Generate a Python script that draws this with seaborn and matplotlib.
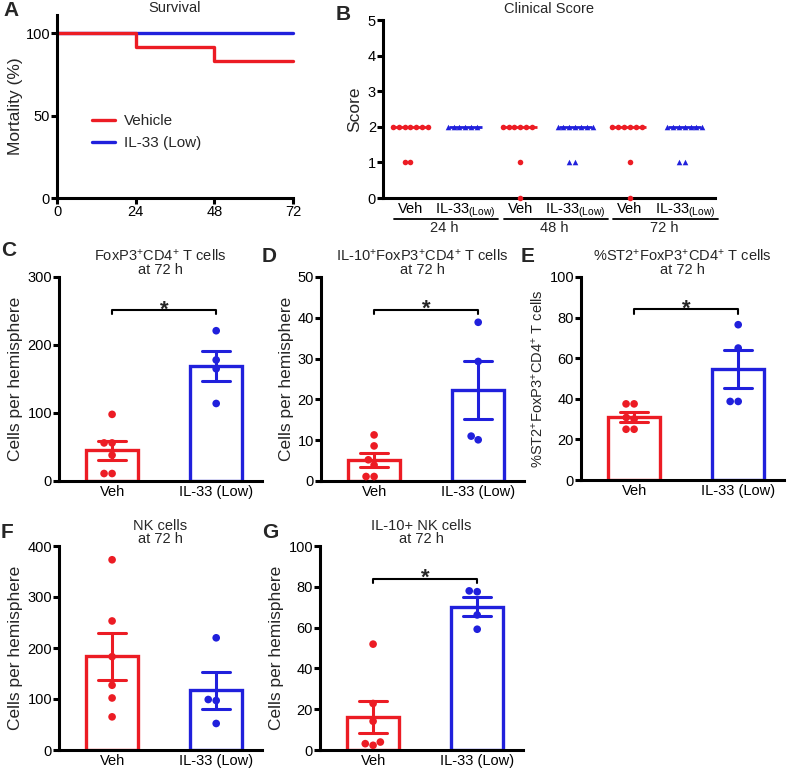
import numpy as np
import pandas as pd
import matplotlib
matplotlib.use("Agg")
import matplotlib.pyplot as plt
import matplotlib.transforms as mtransforms
import seaborn as sns

RED = "#ec1c24"
BLUE = "#2020dc"

# A: survival (%)
surv_hours = [0, 24, 48, 72]
surv_vehicle = [100, 91.7, 83.3, 83.3]
surv_il33 = [100, 100, 100, 100]

# B: clinical score
score_times = ["24 h", "48 h", "72 h"]
score_veh_24 = [2, 2, 2, 2, 2, 2, 2, 1, 1]
score_veh_48 = [2, 2, 2, 2, 2, 2, 1, 0]
score_veh_72 = [2, 2, 2, 2, 2, 2, 1, 0]
score_il33_24 = [2, 2, 2, 2, 2, 2]
score_il33_48 = [2, 2, 2, 2, 2, 2, 2, 1, 1]
score_il33_72 = [2, 2, 2, 2, 2, 2, 2, 1, 1]

# C-G: cells at 72 h
groups = ["Veh", "IL-33 (Low)"]
treg_veh = [98, 56, 56, 38, 11, 11]
treg_il33 = [221, 178, 165, 114]
il10_treg_veh = [11.3, 8.6, 5.2, 3.9, 1.1, 1.1]
il10_treg_il33 = [38.9, 29.3, 11.0, 10.1]
st2_treg_veh = [37.5, 37.5, 30.8, 30.0, 25.0, 25.0]
st2_treg_il33 = [76.5, 65.0, 38.7, 38.7]
nk_veh = [373, 253, 183, 127, 102, 65]
nk_il33 = [220, 99, 97, 52]
il10_nk_veh = [51.9, 22.8, 14.1, 3.9, 3.1, 2.3]
il10_nk_il33 = [78.0, 77.6, 66.2, 59.2]

sns.set_style("ticks")
plt.rcParams["font.family"] = ["Liberation Sans", "DejaVu Sans"]
plt.rcParams["mathtext.fontset"] = "custom"
plt.rcParams["mathtext.rm"] = "Liberation Sans"
plt.rcParams["mathtext.default"] = "regular"
FS = 10.5
plt.rcParams["font.size"] = FS
YLAB_FS = 12.5  # rotated labels run longer in the source

W, H = 793, 769
fig = plt.figure(figsize=(W / 100, H / 100), dpi=100)


def px_axes(l, t, r, b):
    return fig.add_axes([l / W, 1 - b / H, (r - l) / W, (b - t) / H])


def style_axes(ax):
    sns.despine(ax=ax)
    for s in ["left", "bottom"]:
        ax.spines[s].set_linewidth(2.2)
        ax.spines[s].set_color("black")
    ax.tick_params(axis="y", length=4, width=2.2, pad=1, labelsize=FS, colors="black")
    ax.tick_params(axis="x", labelsize=FS, colors="black")


def panel_letter(x, y, s):
    fig.text(x / W, 1 - y / H, s, fontsize=15, fontweight="bold", va="center", ha="left")


# ---- A
ax = px_axes(57, 15, 293, 198)
sns.lineplot(x=surv_hours, y=surv_il33, drawstyle="steps-post", color=BLUE, lw=2.4,
             label="IL-33 (Low)", ax=ax, clip_on=False)
sns.lineplot(x=surv_hours, y=surv_vehicle, drawstyle="steps-post", color=RED, lw=2.4,
             label="Vehicle", ax=ax, clip_on=False)
h, l = ax.get_legend_handles_labels()
ax.legend(h[::-1], l[::-1], frameon=False, loc="center left", bbox_to_anchor=(0.09, 0.36),
          fontsize=11, handlelength=1.5, handletextpad=0.6, labelspacing=0.55)
ax.set_xlim(0, 72)
ax.set_ylim(0, 111)
ax.set_xticks(surv_hours)
ax.set_yticks([0, 50, 100])
ax.set_ylabel("Mortality (%)", labelpad=2, fontsize=YLAB_FS)
ax.set_title("Survival", fontsize=FS, pad=2)
style_axes(ax)
ax.tick_params(axis="x", length=4, width=2.2, pad=1)
panel_letter(3, 11, "A")

# ---- B
veh_scores = [score_veh_24, score_veh_48, score_veh_72]
il33_scores = [score_il33_24, score_il33_48, score_il33_72]
order = []
rows = []
for t, v, i in zip(score_times, veh_scores, il33_scores):
    order += ["Veh " + t, "IL-33 " + t]
    rows += [("Veh " + t, "Veh", s) for s in v]
    rows += [("IL-33 " + t, "IL-33", s) for s in i]
score_df = pd.DataFrame(rows, columns=["cat", "grp", "score"])

ax = px_axes(383, 20, 715, 198)
sns.swarmplot(data=score_df[score_df.grp == "Veh"], x="cat", y="score", order=order,
              color=RED, marker="o", size=4, ax=ax, clip_on=False, zorder=4)
sns.swarmplot(data=score_df[score_df.grp == "IL-33"], x="cat", y="score", order=order,
              color=BLUE, marker="^", size=4, ax=ax, clip_on=False, zorder=4)
med = score_df.groupby("cat")["score"].median()
for p, c in enumerate(order):
    ax.hlines(med[c], p - 0.3, p + 0.3, color=RED if c.startswith("Veh") else BLUE, lw=2, zorder=3)
ax.set_xlim(-0.5, 5.55)
ax.set_ylim(0, 5)
ax.set_yticks(range(6))
ax.set_xticks(range(6), ["Veh", r"IL-33$_{(Low)}$"] * 3)
ax.set_xlabel("")
ax.set_ylabel("Score", labelpad=4, fontsize=YLAB_FS)
ax.set_title("Clinical Score", fontsize=FS, pad=5)
style_axes(ax)
ax.tick_params(axis="x", length=0, pad=3)
trans = mtransforms.blended_transform_factory(ax.transData, ax.transAxes)
for k, t in enumerate(score_times):
    p0 = 2 * k
    ax.plot([p0 - 0.3, p0 + 1.6], [-0.118, -0.118], color="black", lw=1.3,
            transform=trans, clip_on=False)
    ax.text(p0 + 0.62, -0.128, t, transform=trans, ha="center", va="top", fontsize=FS)
panel_letter(336, 15, "B")


# ---- C-G
def bar_panel(rect, veh, il33, ymax, ystep, title, ylabel, star_y, letter, lpos,
              tpad=2, ylab_fs=YLAB_FS):
    ax = px_axes(*rect)
    df = pd.DataFrame({"group": [groups[0]] * len(veh) + [groups[1]] * len(il33),
                       "value": list(veh) + list(il33)})
    sns.barplot(data=df, x="group", y="value", hue="group", order=groups, hue_order=groups,
                palette=[RED, BLUE], fill=False, width=0.5, errorbar="se", capsize=0.27,
                linewidth=2.4, err_kws={"linewidth": 2.2}, legend=False, ax=ax)
    sns.swarmplot(data=df, x="group", y="value", hue="group", order=groups, hue_order=groups,
                  palette=[RED, BLUE], size=5.5, legend=False, ax=ax, zorder=4)
    ax.set_xlim(-0.51, 1.44)
    ax.set_ylim(0, ymax)
    ax.set_yticks(np.arange(0, ymax + 1, ystep))
    ax.set_xlabel("")
    ax.set_ylabel(ylabel, labelpad=3, fontsize=ylab_fs)
    ax.set_title(title, fontsize=FS, pad=tpad, linespacing=0.95)
    style_axes(ax)
    ax.tick_params(axis="x", length=0, pad=3)
    if star_y is not None:
        d = ymax * 0.02
        ax.plot([0, 0, 1, 1], [star_y - d, star_y, star_y, star_y - d], color="black", lw=1.5)
        ax.annotate("*", (0.5, star_y), xytext=(0, -4), textcoords="offset points",
                    ha="center", va="baseline", fontsize=16, fontweight="bold")
    panel_letter(lpos[0], lpos[1], letter)
    return ax


bar_panel((59, 277, 262, 481), treg_veh, treg_il33, 300, 100,
          "FoxP3$^{+}$CD4$^{+}$ T cells\nat 72 h", "Cells per hemisphere", 251, "C", (1, 250))
bar_panel((321, 277, 524, 481), il10_treg_veh, il10_treg_il33, 50, 10,
          "IL-10$^{+}$FoxP3$^{+}$CD4$^{+}$ T cells\nat 72 h", "Cells per hemisphere", 42, "D", (262, 257))
bar_panel((581, 277, 784, 480), st2_treg_veh, st2_treg_il33, 100, 20,
          "%ST2$^{+}$FoxP3$^{+}$CD4$^{+}$ T cells\nat 72 h",
          "%ST2$^{+}$FoxP3$^{+}$CD4$^{+}$ T cells", 84, "E", (521, 257), ylab_fs=10.5)
bar_panel((59, 546, 262, 750), nk_veh, nk_il33, 400, 100,
          "NK cells\nat 72 h", "Cells per hemisphere", None, "F", (1, 532), tpad=-2)
bar_panel((320, 546, 523, 750), il10_nk_veh, il10_nk_il33, 100, 20,
          "IL-10+ NK cells\nat 72 h", "Cells per hemisphere", 84, "G", (262, 532), tpad=-2)

fig.savefig("out.png", dpi=100)
